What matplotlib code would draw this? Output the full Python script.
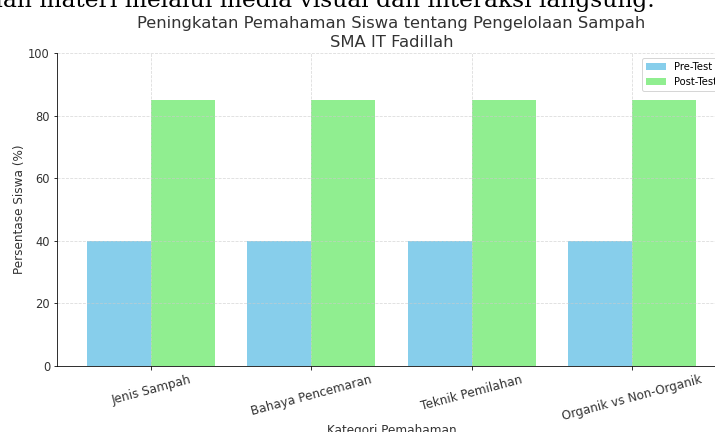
import matplotlib
matplotlib.use("Agg")
import matplotlib.pyplot as plt
import numpy as np

categories = ["Jenis Sampah", "Bahaya Pencemaran", "Teknik Pemilahan", "Organik vs Non-Organik"]
pre_test = [40, 40, 40, 40]
post_test = [85, 85, 85, 85]
series_labels = ["Pre-Test", "Post-Test"]
title = "Peningkatan Pemahaman Siswa tentang Pengelolaan Sampah\nSMA IT Fadillah"
top_text = "dan materi melalui media visual dan interaksi langsung."

W, H = 715, 432
dpi = 72
fig = plt.figure(figsize=(W / dpi, H / dpi), dpi=dpi)

left, right, top, bottom = 57, 726, 53, 366
ax = fig.add_axes([left / W, 1 - bottom / H, (right - left) / W, (bottom - top) / H])

x = np.arange(len(categories))
w = 0.4
ax.bar(x - w / 2, pre_test, w, color="skyblue", label=series_labels[0])
ax.bar(x + w / 2, post_test, w, color="lightgreen", label=series_labels[1])

ax.set_ylim(0, 100)
ax.set_xticks(x)
ax.set_xticklabels(categories, rotation=15, fontsize=12, color="#333333")
ax.tick_params(axis="y", labelsize=11.5, labelcolor="#333333")
ax.set_ylabel("Persentase Siswa (%)", fontsize=12, color="#333333", labelpad=2)
ax.set_xlabel("Kategori Pemahaman", fontsize=12, color="#333333", labelpad=1)
ax.set_title(title, fontsize=16.4, color="#333333", pad=6, linespacing=1.3)
ax.grid(True, linestyle="--", color="#cccccc", alpha=0.7, linewidth=0.8)
for s in ["top", "right"]:
    ax.spines[s].set_visible(False)
ax.legend(loc="upper right", fontsize=10)

fig.text(-12 / W, 1 - 7.5 / H, top_text, fontsize=23.4, family="DejaVu Serif",
         va="baseline", ha="left", color="black")

fig.savefig("out.png", dpi=dpi)
